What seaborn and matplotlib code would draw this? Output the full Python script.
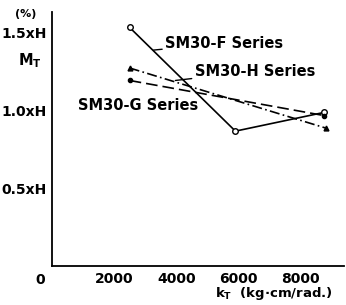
import matplotlib
matplotlib.use("Agg")
import matplotlib.pyplot as plt
import seaborn as sns
import pandas as pd

sns.set_theme(style="white")
plt.rcParams['font.family'] = ['DejaVu Sans']
plt.rcParams['text.color'] = 'black'
plt.rcParams['xtick.color'] = 'black'
plt.rcParams['ytick.color'] = 'black'
plt.rcParams['axes.labelcolor'] = 'black'

series_names = ["SM30-F Series", "SM30-H Series", "SM30-G Series"]
f_x = [2500, 5900, 8750]
f_y = [1.53, 0.865, 0.985]
h_x = [2500, 8800]
h_y = [1.27, 0.885]
g_x = [2500, 8750]
g_y = [1.19, 0.965]

df = pd.concat([
    pd.DataFrame({"k": f_x, "M": f_y, "s": series_names[0]}),
    pd.DataFrame({"k": h_x, "M": h_y, "s": series_names[1]}),
    pd.DataFrame({"k": g_x, "M": g_y, "s": series_names[2]}),
])

fig = plt.figure(figsize=(3.46, 3.05), dpi=100)
ax = fig.add_axes([0.150, 0.128, 0.845, 0.833])

styles = {
    series_names[0]: dict(ls="-", marker="o", mfc="white", ms=4),
    series_names[1]: dict(ls=(0, (6, 2, 1, 2)), marker="^", mfc="black", ms=3.5),
    series_names[2]: dict(ls=(0, (7, 3)), marker="o", mfc="black", ms=3),
}
for name in series_names:
    sub = df[df["s"] == name]
    st = styles[name]
    sns.lineplot(data=sub, x="k", y="M", ax=ax, color="black", lw=1.2,
                 linestyle=st["ls"], marker=st["marker"], markersize=st["ms"],
                 markerfacecolor=st["mfc"], markeredgecolor="black",
                 markeredgewidth=1, estimator=None, sort=False, legend=False)

ax.set_xlim(0, 9400)
ax.set_ylim(0, 1.63)
for sp in ["top", "right"]:
    ax.spines[sp].set_visible(False)
for sp in ["left", "bottom"]:
    ax.spines[sp].set_color("black")
    ax.spines[sp].set_linewidth(1.3)

ax.set_xticks([1000, 2000, 3000, 4000, 5000, 6000, 7000, 8000, 9000])
ax.set_xticklabels(["", "2000", "", "4000", "", "6000", "", "8000", ""],
                   fontsize=10, fontweight="bold", color="black")
ax.set_yticks([0.5, 1.0, 1.5])
ax.set_yticklabels(["0.5xH", "1.0xH", "1.5xH"], fontsize=10, fontweight="bold",
                   color="black")
ax.tick_params(axis="x", direction="in", length=3, width=1, pad=4, colors="black")
ax.tick_params(axis="y", direction="inout", length=5, width=1, pad=1, colors="black")
ax.set_xlabel("")
ax.set_ylabel("")

ax.text(-0.025, -0.055, "0", transform=ax.transAxes, fontsize=10, fontweight="bold",
        ha="right", va="center", color="black")
ax.text(-0.09, 0.99, "(%)", transform=ax.transAxes, fontsize=8, fontweight="bold",
        ha="center", va="center", color="black")
ax.text(-0.075, 0.81, "M$_\\mathregular{T}$", transform=ax.transAxes, fontsize=10.5,
        fontweight="bold", ha="center", va="center", color="black")
ax.text(0.76, -0.108, "k$_\\mathregular{T}$  (kg·cm/rad.)", transform=ax.transAxes,
        fontsize=9.5, fontweight="bold", ha="center", va="center", color="black")

# series labels with leader lines
ax.annotate(series_names[0], xy=(3270, 1.385), xytext=(3650, 1.43),
            fontsize=10.5, fontweight="bold", va="center", ha="left", color="black",
            arrowprops=dict(arrowstyle="-", color="black", lw=1, shrinkA=0, shrinkB=0))
ax.annotate(series_names[1], xy=(3970, 1.19), xytext=(4600, 1.25),
            fontsize=10.5, fontweight="bold", va="center", ha="left", color="black",
            arrowprops=dict(arrowstyle="-", color="black", lw=1, shrinkA=0, shrinkB=0))
ax.text(830, 1.03, series_names[2], fontsize=10.5, fontweight="bold", va="center",
        ha="left", color="black")

fig.savefig("out.png", dpi=100)
